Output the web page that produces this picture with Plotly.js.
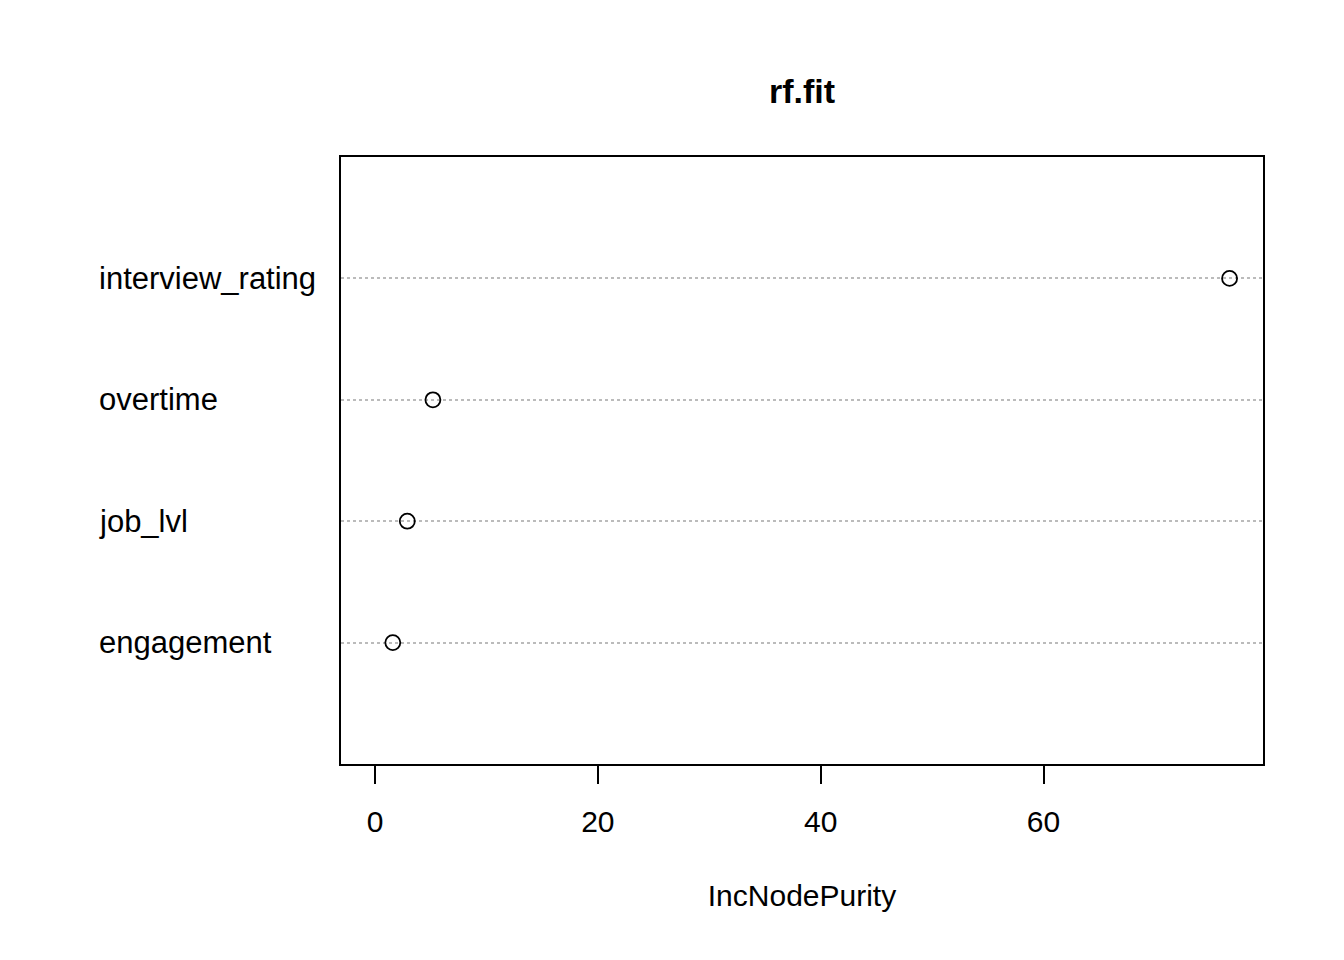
<!DOCTYPE html>
<html>
<head>
<meta charset="utf-8">
<script src="https://cdn.plot.ly/plotly-3.0.1.min.js"></script>
<style>body{margin:0;background:#fff}#chart{width:1344px;height:960px}</style>
</head>
<body>
<div id="chart"></div>
<script>
// variable importance, bottom to top
var features = ['engagement', 'job_lvl', 'overtime', 'interview_rating'];
var purity = [1.6, 2.9, 5.2, 76.7];
var xTicks = [0, 20, 40, 60];

var pos = features.map(function (f, i) { return i + 1; });
var font = {family: 'Liberation Sans, Arial, sans-serif', color: '#000'};

var labels = features.map(function (f, i) {
  return {
    text: f, xref: 'paper', yref: 'y', x: -0.265, y: pos[i],
    xanchor: 'left', yanchor: 'middle', showarrow: false,
    font: {family: font.family, size: 31, color: '#000'}
  };
});

var trace = {
  x: purity, y: pos, type: 'scatter', mode: 'markers',
  marker: {symbol: 'circle-open', size: 15, color: '#000', line: {width: 1.8, color: '#000'}},
  hoverinfo: 'x'
};

var layout = {
  width: 1344, height: 960,
  margin: {l: 341, r: 81, t: 157, b: 196},
  paper_bgcolor: '#fff', plot_bgcolor: '#fff',
  font: font,
  showlegend: false,
  title: {text: '<b>rf.fit</b>', font: {family: font.family, size: 34}, x: 0.5967, xanchor: 'center', y: 0.917},
  xaxis: {
    range: [-3.05, 79.7], tickvals: xTicks, ticks: 'outside', ticklen: 18, tickwidth: 1.5,
    tickcolor: '#000', tickfont: {size: 30}, ticklabelstandoff: 12, showgrid: false, zeroline: false,
    showline: true, linecolor: '#000', linewidth: 1.5, mirror: true,
    title: {text: 'IncNodePurity', font: {size: 30}, standoff: 48}
  },
  yaxis: {
    range: [0, 5], tickvals: pos, showticklabels: false, ticks: '',
    showgrid: true, gridcolor: '#bbbbbb', griddash: 'dot', gridwidth: 1.5, zeroline: false,
    showline: true, linecolor: '#000', linewidth: 1.5, mirror: true
  },
  annotations: labels
};

Plotly.newPlot('chart', [trace], layout, {displayModeBar: false});
</script>
</body>
</html>
